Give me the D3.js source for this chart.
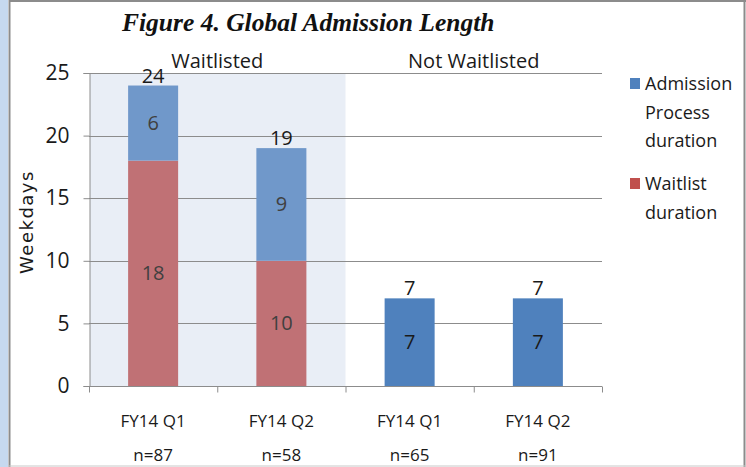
<!DOCTYPE html>
<html>
<head>
<meta charset="utf-8">
<script src="https://cdn.jsdelivr.net/npm/d3@7"></script>
<style>
  body { margin: 0; background: #fff; }
  svg { display: block; }
  text { font-family: "Liberation Sans Narrow", "Open Sans", sans-serif; }
</style>
</head>
<body>
<svg id="chart" width="746" height="467"></svg>
<script>
// data
var categories = ['FY14 Q1', 'FY14 Q2', 'FY14 Q1 ', 'FY14 Q2 '];
var counts = ['n=87', 'n=58', 'n=65', 'n=91'];
var groups = ['Waitlisted', 'Not Waitlisted'];
var groupOf = [0, 0, 1, 1];
var waitlistDays = [18, 10, 0, 0];
var processDays = [6, 9, 7, 7];
var yTicks = [0, 5, 10, 15, 20, 25];

var svg = d3.select('#chart');

var margin = {left: 89, right: 602, top: 73, bottom: 386};

var x = d3.scaleBand()
    .domain(categories)
    .range([margin.left, margin.right])
    .paddingInner(0.61)
    .paddingOuter(0.305);

var y = d3.scaleLinear()
    .domain([0, 25])
    .range([margin.bottom, margin.top]);

// frame
svg.append('rect').attr('x', 0).attr('y', 0).attr('width', 8).attr('height', 467).attr('fill', '#c6d9ef');
svg.append('line').attr('x1', 9.5).attr('x2', 9.5).attr('y1', 0).attr('y2', 467).attr('stroke', '#8c8c8c').attr('stroke-width', 2);
svg.append('line').attr('x1', 9).attr('x2', 746).attr('y1', 1).attr('y2', 1).attr('stroke', '#8c8c8c').attr('stroke-width', 2);
svg.append('line').attr('x1', 744.5).attr('x2', 744.5).attr('y1', 0).attr('y2', 467).attr('stroke', '#8c8c8c').attr('stroke-width', 2);
svg.append('line').attr('x1', 9).attr('x2', 746).attr('y1', 466).attr('y2', 466).attr('stroke', '#c8c8c8').attr('stroke-width', 1);

// shaded waitlisted band
var step = x.step();
svg.append('rect')
    .attr('x', margin.left + 1)
    .attr('y', y(25))
    .attr('width', step * 2 - 1)
    .attr('height', y(0) - y(25))
    .attr('fill', '#e9eef6');

// grid lines
svg.append('g').selectAll('line')
    .data(yTicks.slice(1))
    .enter().append('line')
    .attr('x1', margin.left)
    .attr('x2', margin.right)
    .attr('y1', function(d) { return Math.round(y(d)) + 0.5; })
    .attr('y2', function(d) { return Math.round(y(d)) + 0.5; })
    .attr('stroke', '#8c8c8c')
    .attr('stroke-width', 1);

// y axis
var yAxis = svg.append('g')
    .attr('transform', 'translate(' + (margin.left + 0.5) + ',0)')
    .call(d3.axisLeft(y).tickValues(yTicks).tickSize(6).tickPadding(14));
yAxis.select('.domain').attr('stroke', '#8c8c8c');
yAxis.selectAll('.tick line').attr('stroke', '#8c8c8c');
yAxis.selectAll('.tick text')
    .attr('font-size', 21)
    .attr('fill', '#1a1a1a')
    .style('font-family', '"Liberation Sans Narrow", "Open Sans", sans-serif');

// x axis
var xAxis = svg.append('g')
    .attr('transform', 'translate(0,' + (Math.round(y(0)) + 0.5) + ')');
xAxis.append('line')
    .attr('x1', margin.left).attr('x2', margin.right)
    .attr('stroke', '#8c8c8c');
xAxis.selectAll('.sep')
    .data(d3.range(categories.length + 1))
    .enter().append('line')
    .attr('x1', function(i) { return margin.left + 0.5 + i * step; })
    .attr('x2', function(i) { return margin.left + 0.5 + i * step; })
    .attr('y1', 0).attr('y2', 6)
    .attr('stroke', '#8c8c8c');
xAxis.selectAll('.cat')
    .data(categories)
    .enter().append('text')
    .attr('x', function(d) { return x(d) + x.bandwidth() / 2; })
    .attr('y', 40)
    .attr('text-anchor', 'middle')
    .attr('font-size', 17)
    .attr('fill', '#1a1a1a')
    .text(function(d) { return d.trim(); });
xAxis.selectAll('.cnt')
    .data(counts)
    .enter().append('text')
    .attr('x', function(d, i) { return x(categories[i]) + x.bandwidth() / 2; })
    .attr('y', 74)
    .attr('text-anchor', 'middle')
    .attr('font-size', 17)
    .attr('fill', '#1a1a1a')
    .text(function(d) { return d; });

// bars
var colWaitlist = '#c07175', colProcess = '#7098ca', colProcessNW = '#4f81bd';
var bars = svg.append('g');
categories.forEach(function(c, i) {
  var bx = x(c), bw = x.bandwidth();
  var w = waitlistDays[i], p = processDays[i];
  var waitlisted = groupOf[i] === 0;
  if (w > 0) {
    bars.append('rect')
        .attr('x', bx).attr('width', bw)
        .attr('y', y(w)).attr('height', y(0) - y(w))
        .attr('fill', colWaitlist);
    bars.append('text')
        .attr('x', bx + bw / 2).attr('y', y(w / 2) + 7)
        .attr('text-anchor', 'middle')
        .attr('font-size', 20)
        .attr('fill', '#404040')
        .text(w);
  }
  bars.append('rect')
      .attr('x', bx).attr('width', bw)
      .attr('y', y(w + p)).attr('height', y(w) - y(w + p))
      .attr('fill', waitlisted ? colProcess : colProcessNW);
  bars.append('text')
      .attr('x', bx + bw / 2).attr('y', y(w + p / 2) + 7)
      .attr('text-anchor', 'middle')
      .attr('font-size', 20)
      .attr('fill', waitlisted ? '#404040' : '#1a1a1a')
      .text(p);
  // total on top
  bars.append('text')
      .attr('x', bx + bw / 2).attr('y', y(w + p) - 3)
      .attr('text-anchor', 'middle')
      .attr('font-size', 20)
      .attr('fill', '#1a1a1a')
      .text(w + p);
});

// group labels
groups.forEach(function(g, gi) {
  svg.append('text')
      .attr('x', margin.left + step * (2 * gi + 1))
      .attr('y', 68)
      .attr('text-anchor', 'middle')
      .attr('font-size', 20)
      .attr('fill', '#1a1a1a')
      .text(g);
});

// title
svg.append('text')
    .attr('x', 122)
    .attr('y', 31)
    .attr('font-size', 25.5)
    .attr('font-weight', 'bold')
    .attr('font-style', 'italic')
    .attr('fill', '#111')
    .style('font-family', '"Liberation Serif", "DejaVu Serif", serif')
    .text('Figure 4. Global Admission Length');

// y axis title
svg.append('text')
    .attr('transform', 'translate(33,222) rotate(-90)')
    .attr('text-anchor', 'middle')
    .attr('font-size', 18)
    .attr('letter-spacing', 1.5)
    .attr('fill', '#1a1a1a')
    .style('font-family', '"DejaVu Sans", sans-serif')
    .text('Weekdays');

// legend
var legend = [
  {color: '#4f81bd', lines: ['Admission', 'Process', 'duration'], y: 90},
  {color: '#c0504d', lines: ['Waitlist', 'duration'], y: 190}
];
legend.forEach(function(l) {
  svg.append('rect')
      .attr('x', 630).attr('y', l.y - 12)
      .attr('width', 10).attr('height', 11)
      .attr('fill', l.color);
  l.lines.forEach(function(t, k) {
    svg.append('text')
        .attr('x', 645).attr('y', l.y + k * 28.5)
        .attr('font-size', 18)
        .attr('fill', '#1a1a1a')
        .text(t);
  });
});
</script>
</body>
</html>
